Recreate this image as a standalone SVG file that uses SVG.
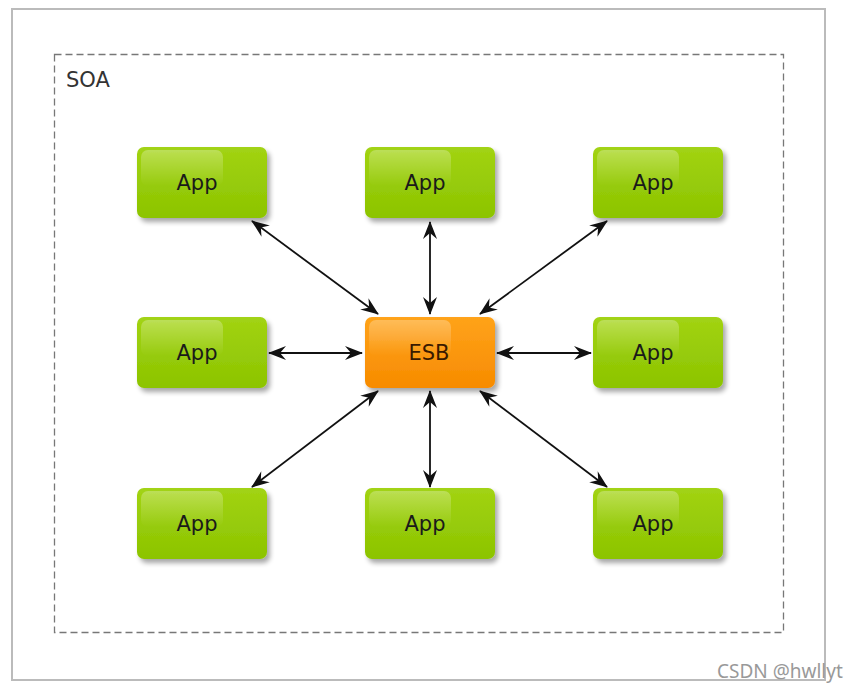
<svg xmlns="http://www.w3.org/2000/svg" width="858" height="692" viewBox="0 0 858 692">
<defs>
<linearGradient id="gApp" x1="0" y1="0" x2="0" y2="1">
<stop offset="0" stop-color="#a2d313"/>
<stop offset="1" stop-color="#8cc400"/>
</linearGradient>
<linearGradient id="gEsb" x1="0" y1="0" x2="0" y2="1">
<stop offset="0" stop-color="#ffa31a"/>
<stop offset="1" stop-color="#f78b00"/>
</linearGradient>
<linearGradient id="gHi" x1="0" y1="0" x2="0" y2="1">
<stop offset="0" stop-color="#ffffff" stop-opacity="0.28"/>
<stop offset="1" stop-color="#ffffff" stop-opacity="0"/>
</linearGradient>
<filter id="sh" x="-20%" y="-20%" width="150%" height="160%">
<feGaussianBlur in="SourceAlpha" stdDeviation="2.5"/>
<feOffset dx="3" dy="4" result="b"/>
<feComponentTransfer><feFuncA type="linear" slope="0.35"/></feComponentTransfer>
<feMerge><feMergeNode/><feMergeNode in="SourceGraphic"/></feMerge>
</filter>
<marker id="ah" viewBox="0 0 18 16" refX="17" refY="8" markerWidth="18" markerHeight="16" markerUnits="userSpaceOnUse" orient="auto-start-reverse">
<path d="M0,1 L18,8 L0,15 L6,8 Z" fill="#111"/>
</marker>
<style>
.frame{fill:#fff;stroke:#bbbbbb;stroke-width:2}
.soa{fill:none;stroke:#777;stroke-width:1.3;stroke-dasharray:7,4}
.app{fill:url(#gApp);filter:url(#sh)}
.esb{fill:url(#gEsb);filter:url(#sh)}
.hi{fill:url(#gHi)}
.lbl{font-family:"DejaVu Sans",sans-serif;font-size:21px;fill:#1a1a1a;text-anchor:middle;dominant-baseline:central}
.esbl{fill:#3a1a00}
.conn line{stroke:#111;stroke-width:1.8;marker-start:url(#ah);marker-end:url(#ah)}
</style>
</defs>
<rect class="frame" x="12" y="9" width="813" height="671"/>
<g id="soa">
<rect class="soa" x="54.5" y="54.5" width="729" height="578"/>
<text x="66" y="87" font-family="DejaVu Sans, sans-serif" font-size="21" fill="#333">SOA</text>
</g>
<g id="app1"><rect class="app" x="137" y="147" width="130" height="71" rx="7"/><rect class="hi" x="141" y="150" width="82" height="36" rx="7"/><text class="lbl" x="197" y="183">App</text></g>
<g id="app2"><rect class="app" x="365" y="147" width="130" height="71" rx="7"/><rect class="hi" x="369" y="150" width="82" height="36" rx="7"/><text class="lbl" x="425" y="183">App</text></g>
<g id="app3"><rect class="app" x="593" y="147" width="130" height="71" rx="7"/><rect class="hi" x="597" y="150" width="82" height="36" rx="7"/><text class="lbl" x="653" y="183">App</text></g>
<g id="app4"><rect class="app" x="137" y="317" width="130" height="71" rx="7"/><rect class="hi" x="141" y="320" width="82" height="36" rx="7"/><text class="lbl" x="197" y="353">App</text></g>
<g id="esb"><rect class="esb" x="365" y="317" width="130" height="71" rx="7"/><rect class="hi" x="369" y="320" width="82" height="36" rx="7"/><text class="lbl esbl" x="429" y="353">ESB</text></g>
<g id="app5"><rect class="app" x="593" y="317" width="130" height="71" rx="7"/><rect class="hi" x="597" y="320" width="82" height="36" rx="7"/><text class="lbl" x="653" y="353">App</text></g>
<g id="app6"><rect class="app" x="137" y="488" width="130" height="71" rx="7"/><rect class="hi" x="141" y="491" width="82" height="36" rx="7"/><text class="lbl" x="197" y="524">App</text></g>
<g id="app7"><rect class="app" x="365" y="488" width="130" height="71" rx="7"/><rect class="hi" x="369" y="491" width="82" height="36" rx="7"/><text class="lbl" x="425" y="524">App</text></g>
<g id="app8"><rect class="app" x="593" y="488" width="130" height="71" rx="7"/><rect class="hi" x="597" y="491" width="82" height="36" rx="7"/><text class="lbl" x="653" y="524">App</text></g>
<g id="connectors" class="conn">
<line x1="252" y1="221" x2="378" y2="314"/>
<line x1="430" y1="222" x2="430" y2="314"/>
<line x1="607" y1="221" x2="480" y2="314"/>
<line x1="269" y1="353" x2="362" y2="353"/>
<line x1="497" y1="353" x2="591" y2="353"/>
<line x1="252" y1="487" x2="378" y2="391"/>
<line x1="430" y1="391" x2="430" y2="487"/>
<line x1="480" y1="391" x2="607" y2="487"/>
</g>
<text x="717" y="678" font-family="Noto Sans, sans-serif" font-size="19" fill="#999">CSDN @hwllyt</text>
</svg>
